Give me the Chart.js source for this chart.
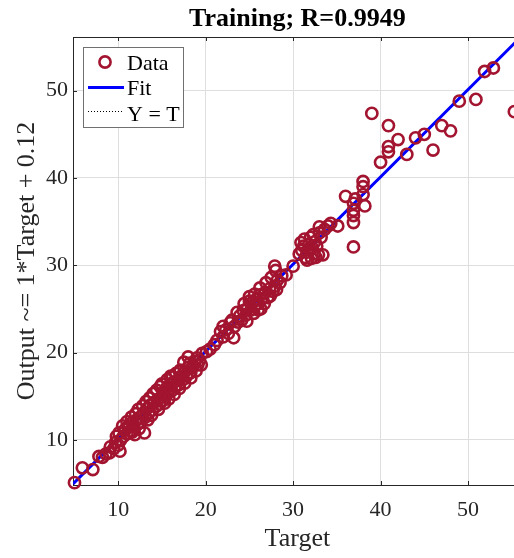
<!DOCTYPE html>
<html>

<head>
    <title>Training regression</title>
    <meta charset="utf-8" />
    <style>
        body { margin: 0; overflow: hidden; background: #fff; }
    </style>
</head>

<body>
    <canvas id="myChart" width="530" height="558"></canvas>

    <script src="https://cdn.jsdelivr.net/npm/chart.js"></script>
    <script type="text/javascript">
        // Training data: target vs network output
        const targets = [
            5.0, 5.9, 7.1, 7.8, 8.2, 8.6, 9.0, 9.1, 9.5, 9.7, 9.8, 10.2, 10.0, 10.3, 10.1,
            10.6, 10.8, 11.0, 11.2, 11.4, 11.6, 11.9, 11.8, 12.1, 12.2, 12.5, 12.6, 12.9, 13.0, 13.1, 13.3, 13.5, 13.7, 13.9, 14.1, 14.3, 14.5, 14.7, 14.8, 14.9, 15.1, 15.2,
            15.4, 15.5, 15.7, 15.9, 16.1, 16.3, 16.5, 16.8, 16.9, 17.1, 17.2, 17.4, 17.6, 17.8, 18.0, 18.2, 18.3, 18.5, 18.8, 19.0, 19.1, 19.3,
            20.1, 20.5, 21.0, 21.3, 21.7, 22.0, 22.3, 22.6, 23.0, 23.2, 23.3, 23.7, 23.9, 24.1, 24.3, 24.6, 24.8, 25.0, 25.2, 25.4, 25.6, 25.8, 26.0, 26.2, 26.3, 26.5, 26.8, 26.9, 27.1, 27.3, 27.5, 27.7, 27.9, 27.9, 28.0, 28.2, 28.5, 28.7, 29.2, 30.0,
            30.7, 30.9, 31.0, 31.2, 31.4, 31.6, 31.8, 31.9, 32.1, 32.2, 32.4, 32.5, 32.7, 32.9, 33.0, 33.0, 33.2, 33.4, 33.6, 34.0, 34.3, 35.1,
            36.0, 36.9, 36.9, 36.9, 36.9, 36.9, 37.1, 38.0, 38.0, 38.0, 38.2,
            39.0, 40.0, 40.9, 40.9, 40.9, 42.0, 43.0, 44.0, 45.0, 46.0, 47.0, 48.0, 49.0, 50.9, 51.9, 52.9, 55.3,
            10.5, 11.0, 11.5, 12.0, 12.3, 12.8, 13.2, 13.6, 14.0, 14.4, 15.0, 15.6, 16.2, 16.6, 17.0,
            11.6, 12.4, 13.4, 13.8, 14.6, 15.3, 15.8, 16.4, 17.0, 17.6, 18.3, 18.9, 19.5,
            22.0, 22.8, 23.6, 24.4, 25.0, 25.6, 26.2, 24.7, 25.5, 26.0, 26.7, 27.4, 28.1,
            31.3, 32.0, 31.6, 32.6, 32.3,
            16.0, 17.5, 18.0, 19.6
        ];
        const outputs = [
            5.1, 6.8, 6.6, 8.1, 8.0, 8.4, 8.5, 9.2, 9.0, 9.7, 10.4, 8.7, 9.4, 10.0, 10.8,
            10.4, 11.2, 10.7, 11.6, 11.0, 12.0, 10.6, 11.5, 12.3, 11.8, 12.6, 12.0, 13.1, 10.8, 12.6, 13.6, 13.1, 14.0, 13.4, 14.3, 13.8, 14.6, 14.1, 16.1, 14.9, 14.5, 15.4,
            15.0, 15.9, 15.4, 16.3, 15.6, 16.6, 16.1, 16.8, 16.3, 18.0, 17.3, 16.9, 17.8, 17.3, 18.3, 18.8, 17.7, 18.4, 19.0, 19.4, 18.6, 19.1,
            20.1, 20.4, 20.9, 21.4, 22.4, 21.8, 22.6, 22.2, 23.7, 21.7, 23.0, 23.5, 24.2, 23.7, 24.8, 24.3, 25.1, 26.4, 24.9, 25.8, 25.3, 26.1, 25.6, 26.6, 25.0, 26.2, 26.9, 28.0, 26.3, 27.3, 28.6, 27.0, 27.6, 29.9, 29.4, 28.3, 28.0, 28.8, 28.9, 29.9,
            31.3, 32.6, 31.7, 32.2, 30.9, 31.5, 32.4, 31.9, 30.8, 32.0, 31.3, 32.7, 32.2, 31.2, 33.7, 34.4, 33.2, 31.2, 34.1, 34.5, 34.8, 34.5,
            37.9, 37.1, 36.3, 35.7, 34.9, 32.1, 37.6, 39.6, 39.0, 38.1, 36.8,
            47.4, 41.8, 46.0, 43.6, 43.0, 44.4, 42.7, 44.6, 45.0, 43.2, 46.0, 45.4, 48.8, 49.0, 52.2, 52.6, 47.6,
            11.6, 12.1, 12.6, 13.0, 13.5, 13.9, 14.4, 14.8, 15.3, 15.7, 16.4, 16.9, 17.2, 17.6, 17.8,
            10.9, 11.3, 12.3, 12.8, 13.5, 14.2, 14.7, 15.2, 15.9, 16.5, 17.1, 17.9, 18.6,
            23.0, 23.4, 24.6, 25.6, 25.9, 26.7, 27.4, 23.6, 24.5, 24.9, 25.6, 26.5, 27.2,
            33.0, 33.2, 30.6, 30.9, 33.5,
            17.3, 18.9, 19.5, 19.9
        ];

        // Fit line (Output ~= 1*Target + 0.12) and Y = T, end points
        const lineTargets = [4.83, 56.15];
        const fitOutputs = [4.95, 56.27];
        const identityOutputs = [4.83, 56.15];

        const tickValues = [10, 20, 30, 40, 50];
        const axisMin = 4.83;
        const axisMax = 56.15;

        const dataColor = '#A2142F';
        const fitColor = '#0000ff';
        const axisColor = '#262626';
        const serif = "'Liberation Serif', 'Times New Roman', serif";

        function toXY(xs, ys) {
            return xs.map((x, i) => ({ x: x, y: ys[i] }));
        }

        // box on top/right, inward tick marks, legend box
        const matlabAxes = {
            id: 'matlabAxes',
            afterDatasetsDraw(chart) {
                const ctx = chart.ctx;
                const a = chart.chartArea;
                const xs = chart.scales.x;
                const ys = chart.scales.y;
                ctx.save();
                ctx.strokeStyle = axisColor;
                ctx.lineWidth = 1;
                ctx.beginPath();
                ctx.moveTo(a.left, a.top + 0.5);
                ctx.lineTo(a.right, a.top + 0.5);
                ctx.moveTo(a.right - 0.5, a.top);
                ctx.lineTo(a.right - 0.5, a.bottom);
                tickValues.forEach((v) => {
                    const px = Math.round(xs.getPixelForValue(v)) + 0.5;
                    ctx.moveTo(px, a.bottom);
                    ctx.lineTo(px, a.bottom - 4);
                    ctx.moveTo(px, a.top);
                    ctx.lineTo(px, a.top + 4);
                    const py = Math.round(ys.getPixelForValue(v)) + 0.5;
                    ctx.moveTo(a.left, py);
                    ctx.lineTo(a.left + 4, py);
                    ctx.moveTo(a.right, py);
                    ctx.lineTo(a.right - 4, py);
                });
                ctx.stroke();
                ctx.restore();
            },
            afterDraw(chart) {
                const ctx = chart.ctx;
                const ds = chart.data.datasets;
                const bx = 83, by = 47, bw = 100, bh = 80;
                ctx.save();
                ctx.fillStyle = '#ffffff';
                ctx.fillRect(bx, by, bw, bh);
                ctx.strokeStyle = '#707070';
                ctx.lineWidth = 1;
                ctx.strokeRect(bx + 0.5, by + 0.5, bw, bh);

                // Data
                ctx.strokeStyle = ds[0].borderColor;
                ctx.lineWidth = ds[0].borderWidth;
                ctx.beginPath();
                ctx.arc(105, 62, ds[0].pointRadius, 0, Math.PI * 2);
                ctx.stroke();
                // Fit
                ctx.strokeStyle = ds[1].borderColor;
                ctx.lineWidth = ds[1].borderWidth;
                ctx.beginPath();
                ctx.moveTo(88, 87.5);
                ctx.lineTo(124, 87.5);
                ctx.stroke();
                // Y = T
                ctx.strokeStyle = ds[2].borderColor;
                ctx.lineWidth = 1;
                ctx.setLineDash(ds[2].borderDash);
                ctx.beginPath();
                ctx.moveTo(88, 111.5);
                ctx.lineTo(123, 111.5);
                ctx.stroke();
                ctx.setLineDash([]);

                ctx.fillStyle = '#000000';
                ctx.font = '22px ' + serif;
                ctx.textBaseline = 'alphabetic';
                ctx.textAlign = 'left';
                ds.forEach((d, i) => {
                    ctx.fillText(d.label, 127, 70 + i * 25.3);
                });
                ctx.restore();
            }
        };

        const ctx = document.getElementById('myChart');

        new Chart(ctx, {
            type: 'scatter',
            data: {
                datasets: [{
                    label: 'Data',
                    data: toXY(targets, outputs),
                    showLine: false,
                    pointStyle: 'circle',
                    pointRadius: 5.6,
                    pointBorderWidth: 2.6,
                    borderWidth: 2.6,
                    borderColor: dataColor,
                    pointBorderColor: dataColor,
                    pointBackgroundColor: 'rgba(0,0,0,0)',
                    clip: false,
                    order: 0
                }, {
                    label: 'Fit',
                    data: toXY(lineTargets, fitOutputs),
                    showLine: true,
                    pointRadius: 0,
                    borderColor: fitColor,
                    borderWidth: 3,
                    order: 1
                }, {
                    label: 'Y = T',
                    data: toXY(lineTargets, identityOutputs),
                    showLine: true,
                    pointRadius: 0,
                    borderColor: '#000000',
                    borderWidth: 1,
                    borderDash: [1, 2],
                    order: 2
                }]
            },
            plugins: [matlabAxes],
            options: {
                responsive: false,
                animation: false,
                events: [],
                layout: {
                    padding: { right: 8 }
                },
                plugins: {
                    legend: { display: false },
                    tooltip: { enabled: false },
                    title: {
                        display: true,
                        fullSize: false,
                        text: 'Training; R=0.9949',
                        color: '#000000',
                        font: { family: serif, size: 26, weight: 'bold', lineHeight: 1.2 },
                        padding: { top: 4, bottom: 1.8 }
                    }
                },
                scales: {
                    x: {
                        type: 'linear',
                        min: axisMin,
                        max: axisMax,
                        afterBuildTicks: (s) => { s.ticks = tickValues.map((v) => ({ value: v })); },
                        afterFit: (s) => { s.height = 73; },
                        ticks: {
                            color: axisColor,
                            font: { family: serif, size: 22 },
                            padding: 12,
                            maxRotation: 0
                        },
                        grid: { color: '#dedede', drawTicks: false },
                        border: { color: axisColor, width: 1 },
                        title: {
                            display: true,
                            text: 'Target',
                            color: axisColor,
                            font: { family: serif, size: 26 },
                            padding: { top: 0, bottom: 3 }
                        }
                    },
                    y: {
                        type: 'linear',
                        min: axisMin,
                        max: axisMax,
                        afterBuildTicks: (s) => { s.ticks = tickValues.map((v) => ({ value: v })); },
                        afterFit: (s) => { s.width = 73; },
                        ticks: {
                            color: axisColor,
                            font: { family: serif, size: 22 },
                            padding: 5
                        },
                        grid: { color: '#dedede', drawTicks: false },
                        border: { color: axisColor, width: 1 },
                        title: {
                            display: true,
                            text: 'Output ~= 1*Target + 0.12',
                            color: axisColor,
                            font: { family: serif, size: 26 },
                            padding: { top: 12, bottom: 0 }
                        }
                    }
                }
            }
        });
    </script>
</body>

</html>
